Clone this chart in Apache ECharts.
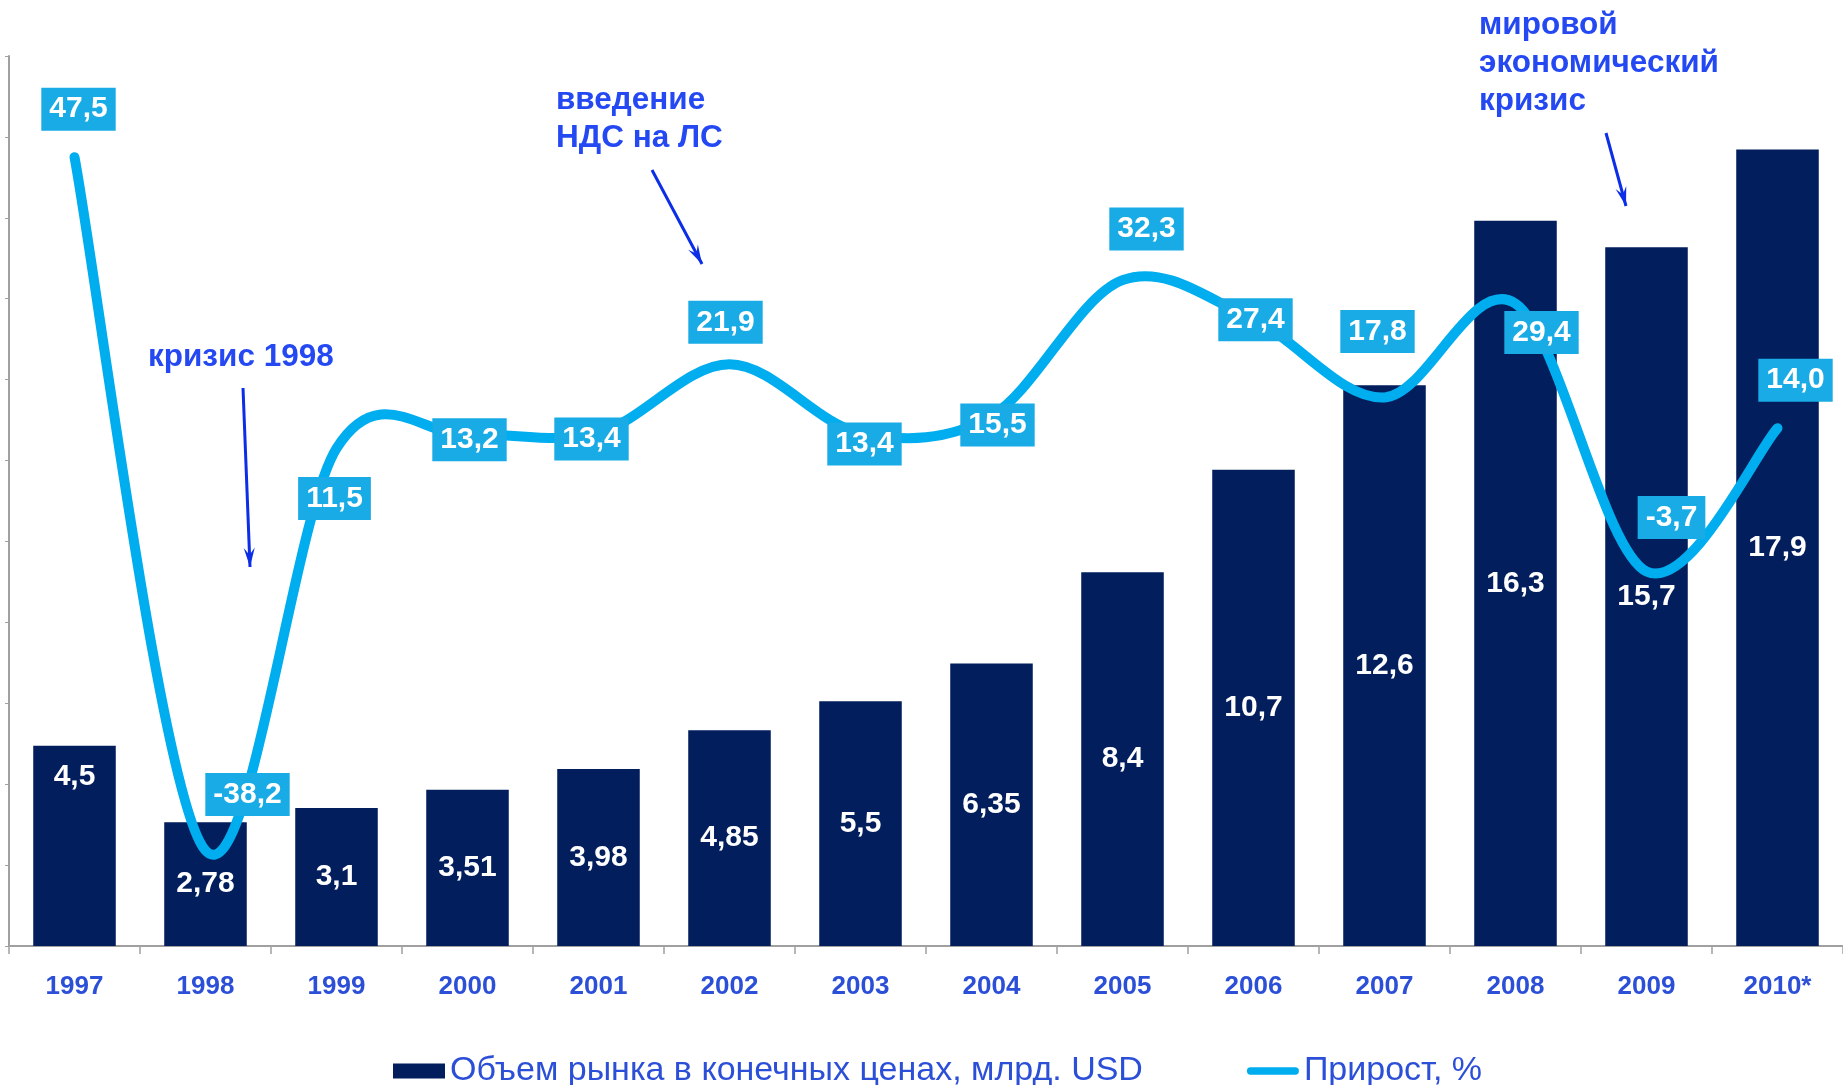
<!DOCTYPE html>
<html>
<head>
<meta charset="utf-8">
<script src="https://cdn.jsdelivr.net/npm/echarts@6/dist/echarts.min.js"></script>
<style>
html,body{margin:0;padding:0;background:#fff;}
#c{width:1843px;height:1085px;}
</style>
</head>
<body>
<div id="c"></div>
<script>
const categories = ['1997','1998','1999','2000','2001','2002','2003','2004','2005','2006','2007','2008','2009','2010*'];
const marketVolume = [4.5, 2.78, 3.1, 3.51, 3.98, 4.85, 5.5, 6.35, 8.4, 10.7, 12.6, 16.3, 15.7, 17.9];
const growth = [47.5, -38.2, 11.5, 13.2, 13.4, 21.9, 13.4, 15.5, 32.3, 27.4, 17.8, 29.4, -3.7, 14.0];
const seriesNames = ['Объем рынка в конечных ценах, млрд. USD', 'Прирост, %'];
const annotationTexts = ['кризис 1998', 'введение\nНДС на ЛС', 'мировой\nэкономический\nкризис'];

// label placement (style)
const growthLabelOffsets = [[4,-48],[42,-56],[-2,50],[2,5],[-7,6],[-4,-42],[4,11],[6,9],[24,-51],[2,0],[-7,-66],[26,29],[25,-54],[18,-48]];

const BAR = '#021E5C';
const LINE = '#00ADEF';
const LBL = '#19ABE5';
const ANN = '#2449F2';
const ARROW = '#0B2EE6';
const FONT = '"Liberation Sans", Arial, sans-serif';

const fmt = v => String(v).replace('.', ',');
const fmt1 = v => v.toFixed(1).replace('.', ',');

const chart = echarts.init(document.getElementById('c'), null, {renderer:'canvas'});

function arrow(x1,y1,x2,y2){
  const a = Math.atan2(y2-y1, x2-x1);
  const L = 20, w = 0.28;
  const p1 = [x2 - L*Math.cos(a-w), y2 - L*Math.sin(a-w)];
  const p2 = [x2 - L*Math.cos(a+w), y2 - L*Math.sin(a+w)];
  return [
    {type:'line', shape:{x1,y1,x2,y2}, style:{stroke:ARROW, lineWidth:3}, z:100},
    {type:'polygon', shape:{points:[p1,[x2,y2],p2,[x2 - 12*Math.cos(a), y2 - 12*Math.sin(a)]]}, style:{fill:ARROW}, z:100}
  ];
}

// Excel-like smoothed line (Catmull-Rom -> Bezier), points from the axes
function renderSmooth(params, api){
  if (params.dataIndex !== 0) return null;
  const pts = growth.map((v,i)=>api.coord([i, v]));
  const n = pts.length;
  let d = 'M' + pts[0][0] + ',' + pts[0][1];
  for (let i = 0; i < n-1; i++){
    const p0 = pts[Math.max(0,i-1)], p1 = pts[i], p2 = pts[i+1], p3 = pts[Math.min(n-1,i+2)];
    const c1 = [p1[0] + (p2[0]-p0[0])/6, p1[1] + (p2[1]-p0[1])/6];
    const c2 = [p2[0] - (p3[0]-p1[0])/6, p2[1] - (p3[1]-p1[1])/6];
    d += ' C' + c1[0] + ',' + c1[1] + ' ' + c2[0] + ',' + c2[1] + ' ' + p2[0] + ',' + p2[1];
  }
  return {
    type:'path',
    shape:{pathData:d},
    style:{fill:null, stroke:LINE, lineWidth:10, lineCap:'round', lineJoin:'round'}
  };
}

const annStyle = {fill:ANN, font:'bold 31.5px ' + FONT, lineHeight:38};

const option = {
  animation:false,
  backgroundColor:'#fff',
  grid:{left:9, right:0, top:56, bottom:139, containLabel:false},
  legend:{
    left:388, top:1049,
    itemWidth:52, itemHeight:15, itemGap:104,
    textStyle:{color:'#2C4FD8', fontSize:34, fontFamily:FONT},
    data:[
      {name:seriesNames[0], icon:'rect'},
      {name:seriesNames[1], icon:'path://M7,0 H93 A7,7 0 0 1 93,14 H7 A7,7 0 0 1 7,0 Z', itemStyle:{color:LINE}}
    ]
  },
  xAxis:{
    type:'category', data:categories, boundaryGap:true,
    axisLine:{onZero:false, lineStyle:{color:'#A0A0A0', width:2}},
    axisTick:{show:true, length:8, lineStyle:{color:'#A0A0A0', width:1.5}},
    axisLabel:{color:'#2C4FD8', fontSize:26, fontWeight:'bold', margin:28, fontFamily:FONT}
  },
  yAxis:[
    {type:'value', min:-50, max:60, interval:10,
     axisLine:{show:true, lineStyle:{color:'#A0A0A0', width:2}},
     axisTick:{show:true, length:4, lineStyle:{color:'#A0A0A0'}},
     axisLabel:{show:false}, splitLine:{show:false}},
    {type:'value', min:0, max:20, show:false, splitLine:{show:false}}
  ],
  series:[
    {
      name:seriesNames[0], type:'bar', yAxisIndex:1, barWidth:'63%',
      itemStyle:{color:BAR},
      data: marketVolume.map((v,i)=> i===0 ? {value:v, label:{position:['50%',31], align:'center', verticalAlign:'middle'}} : v),
      label:{show:true, position:'inside', color:'#fff', fontSize:30, fontWeight:'bold',
             fontFamily:FONT, formatter:p=>fmt(p.value)},
      z:2
    },
    {
      name:seriesNames[1], type:'custom', yAxisIndex:0,
      itemStyle:{color:LINE},
      renderItem:renderSmooth,
      data: growth.map((v,i)=>[i, v]),
      encode:{x:0, y:1},
      z:4
    },
    {
      name:'growthLabels', type:'line', yAxisIndex:0,
      symbol:'circle', symbolSize:1, showSymbol:true,
      itemStyle:{color:LINE},
      lineStyle:{width:0, opacity:0},
      data: growth.map((v,i)=>({value:v, label:{offset:growthLabelOffsets[i]}})),
      label:{show:true, position:'inside', color:'#fff', fontSize:30, fontWeight:'bold',
             fontFamily:FONT, backgroundColor:LBL, padding:[7,8,6,8], formatter:p=>fmt1(p.value)},
      z:6
    }
  ],
  graphic:[
    {type:'text', left:148, top:338, style:Object.assign({text:annotationTexts[0]}, annStyle), z:100},
    {type:'text', left:556, top:81, style:Object.assign({text:annotationTexts[1]}, annStyle), z:100},
    {type:'text', left:1479, top:6, style:Object.assign({text:annotationTexts[2]}, annStyle), z:100},
    ...arrow(243,388,250,567),
    ...arrow(652,170,702,264),
    ...arrow(1606,133,1626,206)
  ]
};
chart.setOption(option);
</script>
</body>
</html>
